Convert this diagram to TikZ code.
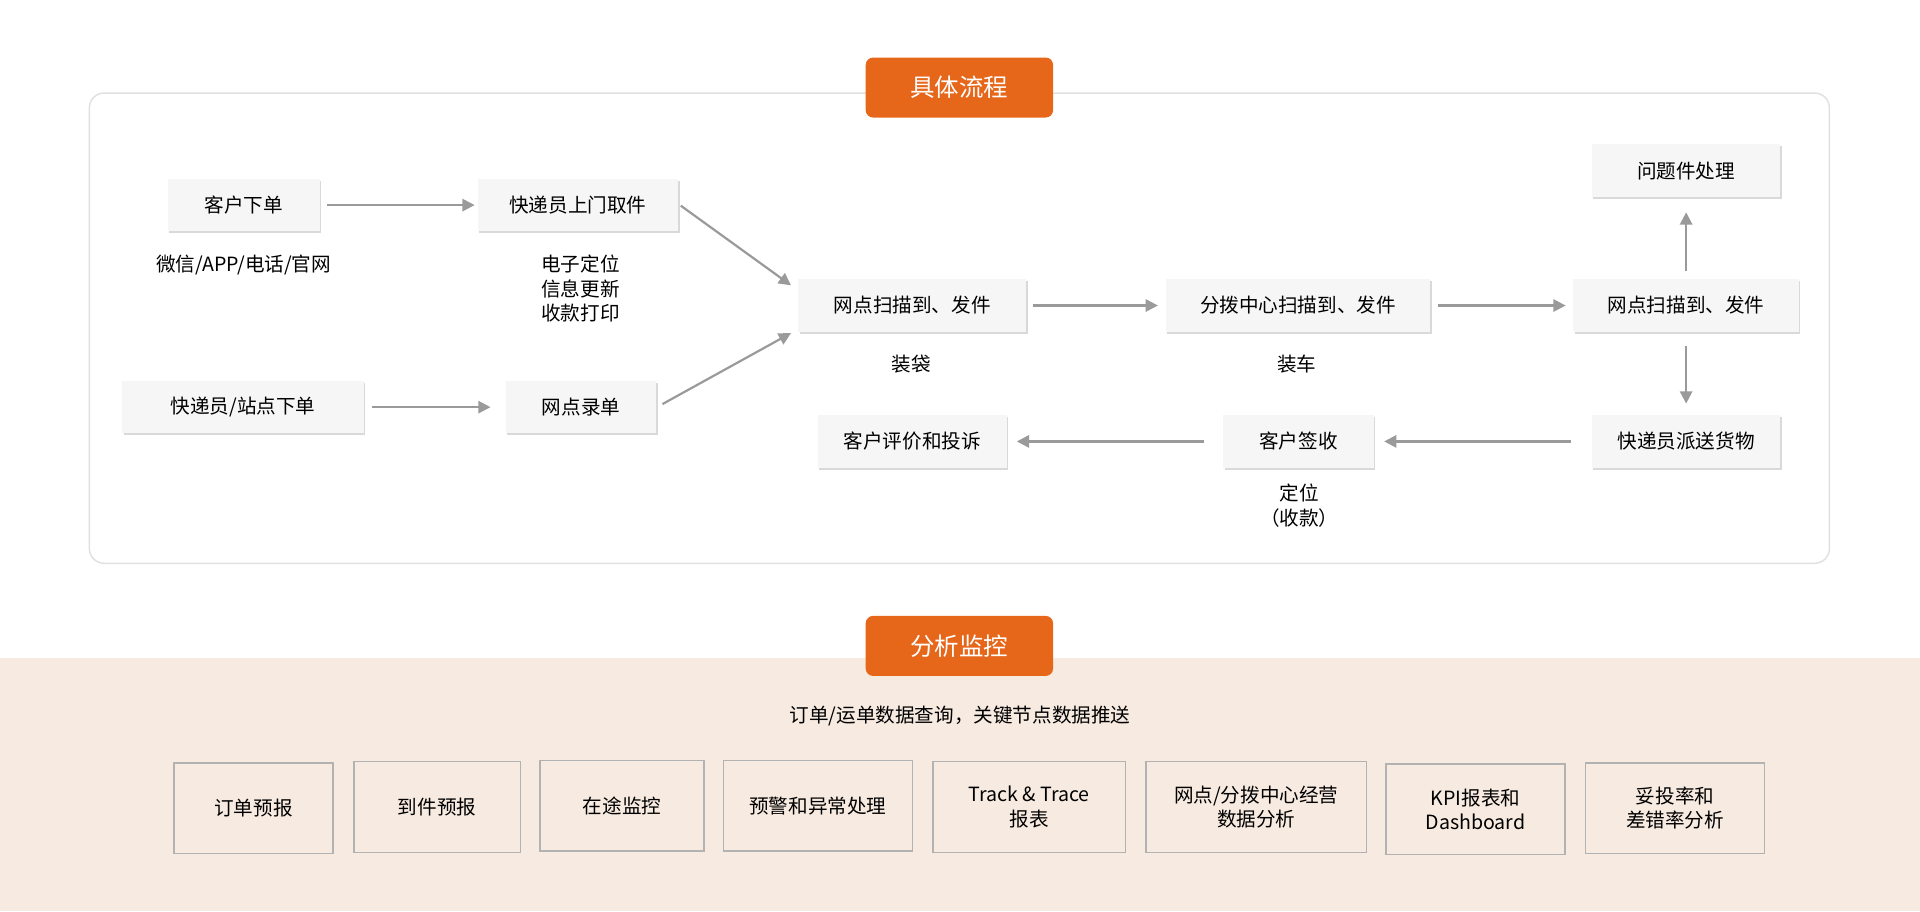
\documentclass[tikz,border=0pt]{standalone}
\usepackage{fontspec}
\setmainfont{Noto Sans CJK SC}
\definecolor{titlecolor}{HTML}{E6661A}
\definecolor{bandcolor}{HTML}{F7EAE1}
\definecolor{boxcolor}{HTML}{F6F6F6}
\definecolor{linecolor}{HTML}{9A9A9A}
\usetikzlibrary{%
        arrows.meta, % 箭头
        shadows,
    }

\begin{document}
\begin{tikzpicture}[x=0.5pt, y=-0.5pt, font=\fontsize{8}{10}\selectfont]
    \tikzset{%
        stepbox/.style={fill=boxcolor, minimum height=21.5pt, inner sep=0pt,
                drop shadow={shadow xshift=0.6pt, shadow yshift=-0.8pt, fill=black!25, opacity=0.6}},
        titlebox/.style={fill=titlecolor, rounded corners=3pt, text=white, minimum width=76.5pt,
                minimum height=24.5pt, font=\fontsize{10}{12}\selectfont},
        toolbox/.style={draw=black!30, line width=0.6pt, align=center, inner sep=0pt,
                minimum height=37pt},
        flow/.style={draw=linecolor, line width=0.9pt, -{Triangle[length=5pt, width=5pt]}},
    }
    \useasboundingbox (0, 0) rectangle (1568, 744);

    % 底部背景
    \fill [bandcolor] (0, 537) rectangle (1568, 744);
    % 外框
    \draw [black!12, line width=0.6pt, rounded corners=6pt] (73, 76) rectangle (1494, 460);

    % 标题
    \node (flowtitle) [titlebox] at (783.5, 71.5) {具体流程};
    \node (monitortitle) [titlebox] at (783.5, 527.5) {分析监控};

    % 流程节点
    \node (order) [stepbox, minimum width=62pt] at (199, 167.5) {客户下单};
    \node (pickup) [stepbox, minimum width=82pt] at (472, 167.5) {快递员上门取件};
    \node (siteorder) [stepbox, minimum width=98.5pt] at (198.5, 332.5) {快递员/站点下单};
    \node (entry) [stepbox, minimum width=61.5pt] at (474.5, 332.5) {网点录单};
    \node (scanA) [stepbox, minimum width=93pt] at (745, 249.5) {网点扫描到、发件};
    \node (hub) [stepbox, minimum width=108pt] at (1060, 249.5) {分拨中心扫描到、发件};
    \node (scanB) [stepbox, minimum width=92pt] at (1377, 249.5) {网点扫描到、发件};
    \node (problem) [stepbox, minimum width=77pt] at (1377, 139.5) {问题件处理};
    \node (deliver) [stepbox, minimum width=77pt] at (1377, 360.5) {快递员派送货物};
    \node (sign) [stepbox, minimum width=61.5pt] at (1060.5, 360.5) {客户签收};
    \node (review) [stepbox, minimum width=77pt] at (745, 360.5) {客户评价和投诉};

    % 说明文字
    \node [align=center] at (199, 216) {微信/APP/电话/官网};
    \node [align=center] at (474, 236) {电子定位\\信息更新\\收款打印};
    \node at (744, 297) {装袋};
    \node at (1059, 297) {装车};
    \node [align=center] at (1061, 413) {定位\\（收款）};

    % 箭头
    \draw [flow, shorten <=6pt/2, shorten >=2pt/2] (order) -- (pickup);
    \draw [flow, shorten <=6pt/2, shorten >=12pt/2] (siteorder) -- (entry);
    \draw [flow] (556, 168) -- (646, 233);
    \draw [flow] (541, 330) -- (646, 272);
    \draw [flow, shorten <=5pt/2, shorten >=6pt/2] (scanA) -- (hub);
    \draw [flow, shorten <=6pt/2, shorten >=6pt/2] (hub) -- (scanB);
    \draw [flow, shorten <=6pt/2, shorten >=12pt/2] (scanB) -- (problem);
    \draw [flow, shorten <=11pt/2, shorten >=9pt/2] (scanB) -- (deliver);
    \draw [flow, shorten <=17pt/2, shorten >=8pt/2] (deliver) -- (sign);
    \draw [flow, shorten <=15pt/2, shorten >=8pt/2] (sign) -- (review);

    % 分析监控
    \node (query) at (784, 585) {订单/运单数据查询，关键节点数据推送};
    \node (forecast) [toolbox, minimum width=65pt] at (207, 660) {订单预报};
    \node (arrival) [toolbox, minimum width=68pt] at (357, 659) {到件预报};
    \node (transit) [toolbox, minimum width=67pt] at (508, 658) {在途监控};
    \node (alert) [toolbox, minimum width=77pt] at (668, 658) {预警和异常处理};
    \node (track) [toolbox, minimum width=78.5pt] at (840.5, 659) {Track \& Trace\\报表};
    \node (analysis) [toolbox, minimum width=90pt] at (1026, 659) {网点/分拨中心经营\\数据分析};
    \node (kpi) [toolbox, minimum width=73pt] at (1205, 661) {KPI报表和\\Dashboard};
    \node (rate) [toolbox, minimum width=73pt] at (1368, 660) {妥投率和\\差错率分析};
\end{tikzpicture}
\end{document}
